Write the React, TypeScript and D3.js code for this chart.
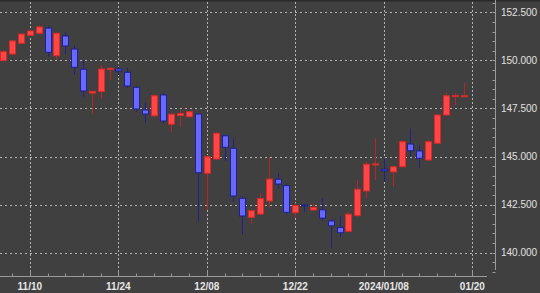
import React, { useEffect } from "react";
import * as d3 from "d3";

const dates = [
  "11/07","11/08","11/09","11/10","11/13","11/14","11/15","11/16","11/17","11/20",
  "11/21","11/22","11/23","11/24","11/27","11/28","11/29","11/30","12/01","12/04",
  "12/05","12/06","12/07","12/08","12/11","12/12","12/13","12/14","12/15","12/18",
  "12/19","12/20","12/21","12/22","12/25","12/26","12/27","12/28","12/29","01/02",
  "01/03","01/04","01/05","01/08","01/09","01/10","01/11","01/12","01/15","01/16",
  "01/17","01/18","01/19"
];
const opens = [
  149.99,150.33,150.89,151.30,151.41,151.68,150.24,151.27,150.59,149.54,
  148.30,148.38,149.52,149.55,149.38,148.60,147.42,147.12,148.20,146.68,
  147.13,147.07,147.21,144.13,144.87,146.08,145.43,142.83,141.84,142.01,
  142.69,143.82,143.49,142.08,142.48,142.22,142.23,141.65,141.31,141.11,
  141.93,143.21,144.56,144.34,144.20,144.47,145.65,145.29,144.82,145.69,
  147.16,148.14,148.13
];
const highs = [
  150.54,151.06,151.42,151.58,151.81,151.79,151.45,151.46,150.80,150.02,
  148.43,149.76,149.63,149.67,149.62,148.68,147.80,148.25,148.29,147.26,
  147.42,147.39,147.26,145.08,146.29,146.15,145.95,142.95,142.25,143.09,
  144.99,144.13,143.60,142.58,142.53,142.56,142.83,141.75,141.89,142.12,
  143.78,144.73,145.95,144.91,144.53,145.86,146.45,145.60,145.86,147.21,
  148.32,148.29,148.81
];
const lows = [
  149.94,150.28,150.85,151.27,151.37,150.19,150.02,150.33,149.24,148.11,
  147.21,147.99,148.98,149.24,148.55,147.33,146.73,147.03,146.73,146.29,
  146.54,147.03,141.61,142.22,144.82,144.77,142.65,140.92,141.53,141.96,
  142.35,143.31,142.01,141.87,142.13,142.17,141.65,140.23,140.79,141.07,
  141.86,142.83,143.78,143.69,143.43,144.40,144.99,144.39,144.77,145.65,
  147.11,147.68,148.12
];
const closes = [
  150.45,151.01,151.37,151.53,151.74,150.42,151.41,150.75,149.64,148.41,
  148.39,149.55,149.59,149.45,148.67,147.47,147.21,148.16,146.85,147.20,
  147.24,147.33,144.16,144.99,146.21,145.48,142.95,141.91,142.18,142.82,
  143.83,143.57,142.10,142.45,142.43,142.36,141.80,141.40,141.04,142.00,
  143.30,144.60,144.62,144.26,144.47,145.77,145.30,144.91,145.77,147.16,
  148.16,148.17,148.16
];

const xTickIdx = [3, 13, 23, 33, 43, 53];
const xTickLabels = ["11/10", "11/24", "12/08", "12/22", "2024/01/08", "01/20"];
const yTicks = [140, 142.5, 145, 147.5, 150, 152.5];

const W = 540;
const H = 293;

export default function App() {
  useEffect(() => {
    document.body.style.margin = "0";
  }, []);

  const x = d3.scaleLinear().domain([0, 53]).range([3.3, 3.3 + 8.85 * 53]);
  const y = d3.scaleLinear().domain([140, 152.5]).range([252.7, 12.3]);

  const axisX = 495.5;
  const axisY = 276.5;
  const plotRight = 496;
  const bodyW = 6;

  const upFill = "#ff4545";
  const upStroke = "#d42a2a";
  const upWick = "#b82525";
  const dnFill = "#6868ff";
  const dnStroke = "#20208e";
  const dnWick = "#20208e";

  const minorTicks = d3.range(1, 54, 2);
  const yMinor = d3.range(139, 153.01, 0.5);

  const fmt = d3.format(".3f");

  return (
    <svg
      width={W}
      height={H}
      style={{ position: "absolute", left: 0, top: 0, display: "block" }}
      fontFamily="'Liberation Sans', Arial, sans-serif"
    >
      <rect x={0} y={0} width={W} height={H} fill="#404040" />
      <rect x={0} y={0} width={W} height={1.5} fill="#2a2a2a" />

      {/* horizontal grid */}
      {yTicks.map((t) => (
        <line
          key={"hg" + t}
          x1={0}
          x2={plotRight}
          y1={Math.round(y(t)) + 0.5}
          y2={Math.round(y(t)) + 0.5}
          stroke="#b4b4b4"
          strokeDasharray="2,3"
        />
      ))}
      {/* vertical grid */}
      {xTickIdx.map((i) => (
        <line
          key={"vg" + i}
          x1={Math.round(x(i)) + 0.5}
          x2={Math.round(x(i)) + 0.5}
          y1={2}
          y2={axisY}
          stroke="#b4b4b4"
          strokeDasharray="2,2"
        />
      ))}

      {/* candles */}
      {dates.map((d, i) => {
        const o = opens[i];
        const c = closes[i];
        const up = c >= o;
        const cx = Math.round(x(i)) + 0.5;
        const top = y(Math.max(o, c));
        const bot = y(Math.min(o, c));
        const h = Math.max(1, bot - top);
        return (
          <g key={d}>
            <line
              x1={cx}
              x2={cx}
              y1={y(highs[i])}
              y2={y(lows[i])}
              stroke={up ? upWick : dnWick}
              strokeWidth={1}
            />
            <rect
              x={cx - bodyW / 2}
              y={top}
              width={bodyW}
              height={h}
              fill={up ? upFill : dnFill}
              stroke={up ? upStroke : dnStroke}
              strokeWidth={1}
            />
          </g>
        );
      })}

      {/* x axis */}
      <line x1={0} x2={487} y1={axisY} y2={axisY} stroke="#9a9a9a" />
      {minorTicks.map((i) => (
        <line
          key={"xt" + i}
          x1={Math.round(x(i)) + 0.5}
          x2={Math.round(x(i)) + 0.5}
          y1={axisY}
          y2={axisY - (xTickIdx.includes(i) ? 6 : 3)}
          stroke="#9a9a9a"
        />
      ))}
      {xTickIdx.map((i, k) => (
        <text
          key={"xl" + i}
          x={x(i)}
          y={290}
          textAnchor="middle"
          fontSize={10}
          fontWeight="bold"
          fill="#e6e6e6"
        >
          {xTickLabels[k]}
        </text>
      ))}

      {/* y axis */}
      <line x1={axisX} x2={axisX} y1={0} y2={270} stroke="#9a9a9a" />
      {yMinor.map((t) => (
        <line
          key={"ym" + t}
          x1={axisX - 3}
          x2={axisX}
          y1={Math.round(y(t)) + 0.5}
          y2={Math.round(y(t)) + 0.5}
          stroke="#9a9a9a"
        />
      ))}
      {yTicks.map((t) => (
        <text
          key={"yl" + t}
          x={501}
          y={y(t) + 3.5}
          fontSize={10}
          fill="#e0e0e0"
        >
          {fmt(t)}
        </text>
      ))}
    </svg>
  );
}
